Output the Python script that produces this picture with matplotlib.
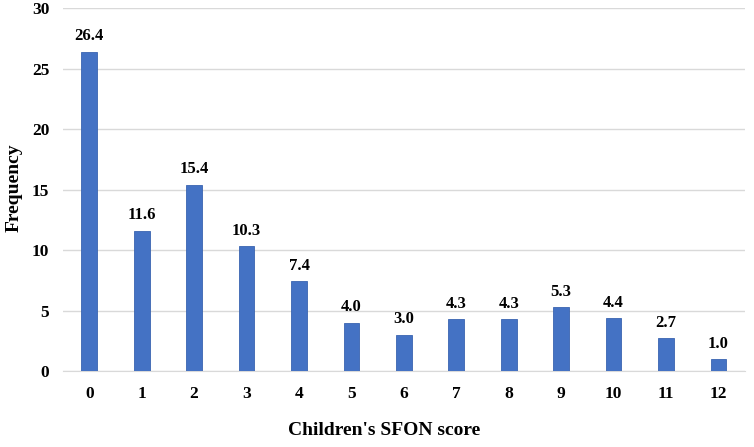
import numpy as np
import matplotlib.pyplot as plt

scores = [str(i) for i in range(13)]
freq = [26.4, 11.6, 15.4, 10.3, 7.4, 4.0, 3.0, 4.3, 4.3, 5.3, 4.4, 2.7, 1.0]

plt.rcParams['font.family'] = ['Liberation Serif', 'DejaVu Serif']
plt.rcParams['font.weight'] = 'bold'

fig = plt.figure(figsize=(7.54, 4.47), dpi=100)
ax = fig.add_axes([0.0836, 0.170, 0.904, 0.812])

x = np.arange(len(scores))
bars = ax.bar(x, freq, width=0.3, color='#4472C4', edgecolor='#3a64b0', linewidth=0.6, zorder=3)
for xi, v in zip(x, freq):
    ax.text(xi, v + 0.6, f'{v:.1f}', ha='center', va='bottom', fontsize=12, fontweight='bold')

ax.set_xlim(-0.5, len(scores) - 0.5)
ax.set_ylim(0, 30)
ax.set_yticks(range(0, 31, 5))
ax.set_xticks(x)
ax.set_xticklabels(scores)
ax.yaxis.grid(True, color='#d9d9d9', linewidth=1, zorder=0)
for s in ['top', 'right', 'left']:
    ax.spines[s].set_visible(False)
ax.spines['bottom'].set_color('#d9d9d9')
ax.tick_params(length=0, labelsize=12.5)
ax.tick_params(axis='x', pad=11)
ax.tick_params(axis='y', pad=10)
for lbl in ax.get_xticklabels() + ax.get_yticklabels():
    lbl.set_fontweight('bold')

fig.text(0.019, 0.58, 'Frequency', rotation=90, ha='center', va='center', fontsize=14, fontweight='bold')
fig.text(0.51, 0.018, "Children's SFON score", ha='center', va='bottom', fontsize=14, fontweight='bold')

fig.savefig('out.png', dpi=100)
